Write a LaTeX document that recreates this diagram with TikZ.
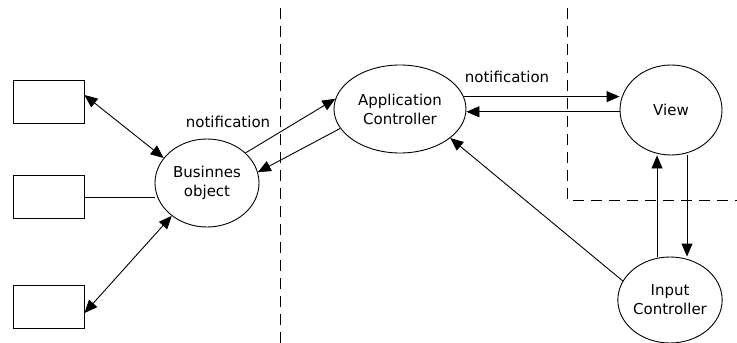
\documentclass[tikz,border=0pt]{standalone}
\usepackage{fontspec}
\setmainfont{DejaVu Sans}
\usetikzlibrary{shapes.geometric,arrows.meta}
\begin{document}
\begin{tikzpicture}[x=1pt,y=-1pt,
  every node/.style={font=\fontsize{15}{19}\selectfont},
  blob/.style={draw,ellipse,line width=0.9pt,inner sep=0pt,align=center},
  store/.style={draw,rectangle,line width=1pt,minimum width=71pt,minimum height=43pt,inner sep=0pt},
  link/.style={line width=0.9pt},
  tip/.style={-{Triangle[length=13pt,width=11pt]}},
  tips/.style={{Triangle[length=13pt,width=11pt]}-{Triangle[length=13pt,width=11pt]}},
  border/.style={line width=1pt,dash pattern=on 11pt off 7pt}]
\useasboundingbox (0,0) rectangle (737,343);

% layer separators
\draw[border] (280,8) -- (280,343);
\draw[border] (567,8) -- (567,200) -- (737,200);

% data stores
\node[store] (s1) at (48.5,102) {};
\node[store] (s2) at (48.5,197) {};
\node[store] (s3) at (48.5,307) {};

% components
\node[blob,minimum width=104pt,minimum height=88pt] (bo) at (207,183) {Businnes\\object};
\node[blob,minimum width=132pt,minimum height=88pt] (ac) at (400,109) {Application\\Controller};
\node[blob,minimum width=102pt,minimum height=90pt] (vw) at (671,110) {View};
\node[blob,minimum width=104pt,minimum height=86pt] (ic) at (670,300) {Input\\Controller};

% stores <-> business object
\draw[link,tips] ([yshift=7pt]s1.east) -- (bo.150);
\draw[link] (s2.east) -- (s2.east -| bo.west);
\draw[link,tips] ([yshift=-6pt]s3.east) -- (bo.223);

% business object <-> application controller
\draw[link,tip] (bo.38) -- (ac.171);
\draw[link,tip] (ac.198) -- (bo.12);
\node (n1) at (228,122) {notification};

% application controller <-> view
\draw[link,tip] (ac.11.7) -- (vw.west |- ac.11.7);
\draw[link,tip] (vw.182) -- (ac.east |- vw.182);
\node (n2) at (507,77) {notification};

% input controller
\draw[link,tip] (ic.158) -- (ac.330);
\draw[link,tip] ([xshift=-13pt]ic.north) -- ([xshift=-14pt]vw.south);
\draw[link,tip] ([xshift=16pt]vw.south) -- ([xshift=17pt]ic.north);
\end{tikzpicture}
\end{document}
